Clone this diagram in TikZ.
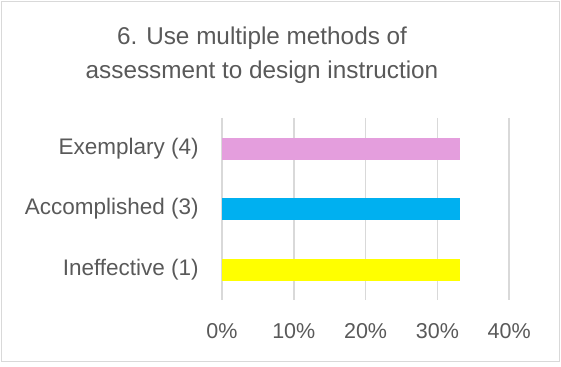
\documentclass[tikz,border=0pt]{standalone}
\usepackage{fontspec}
\setmainfont{Liberation Sans}
\usepackage{tikz}
\usetikzlibrary{positioning}

\definecolor{txtgray}{HTML}{595959}
\definecolor{gridgray}{HTML}{D9D9D9}
\definecolor{exmpink}{HTML}{E49EDD}
\definecolor{accblue}{HTML}{00B0F0}
\definecolor{ineyellow}{HTML}{FFFF00}

\begin{document}
\begin{tikzpicture}[x=1pt,y=-1pt,semithick]
  \tikzstyle{every node}=[text=txtgray,inner sep=0pt]
  \tikzstyle{cat}=[anchor=east,font=\fontsize{22.5}{26}\selectfont]
  \tikzstyle{tick}=[font=\fontsize{21.5}{26}\selectfont]
  \tikzstyle{grid}=[draw=gridgray,line width=1.5pt]

  \useasboundingbox (0,0) rectangle (561,366);
  \draw[draw=gridgray,line width=1pt] (1.5,1.5) rectangle (559.5,361.5);

  % title
  \node[font=\fontsize{24.3}{34}\selectfont,align=center] (title) at (262,55)
    {6. Use multiple methods of\\assessment to design instruction};

  % grid and axis labels
  \foreach \p [count=\i from 0] in {0,10,20,30,40} {
    \draw[grid] (222+71.8*\i,118) -- (222+71.8*\i,300);
    \node[tick] (t\i) at (222+71.8*\i,331) {\p\%};
  }

  % bars
  \fill[exmpink]   (222,138) rectangle (459.5,160);
  \fill[accblue]   (222,198) rectangle (459.5,220);
  \fill[ineyellow] (222,259) rectangle (459.5,281);

  \node[cat] (ex)  at (199,149) {Exemplary (4)};
  \node[cat] (acc) at (199,209) {Accomplished (3)};
  \node[cat] (ine) at (199,270) {Ineffective (1)};
\end{tikzpicture}
\end{document}
